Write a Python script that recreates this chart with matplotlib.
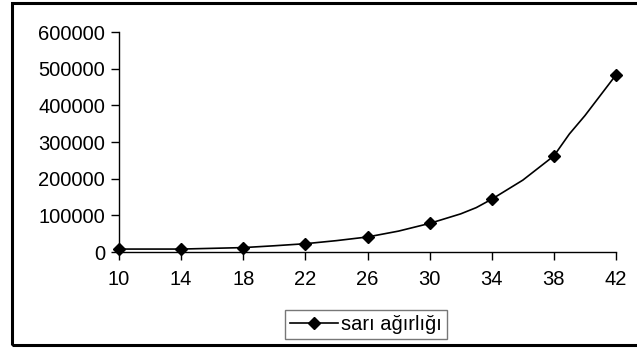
import matplotlib.pyplot as plt
from matplotlib.patches import Rectangle

# boy (cm) -> sarı ağırlığı
x_line = [10, 12, 14, 16, 18, 20, 22, 24, 26, 28, 30, 32, 33, 34, 36, 38, 39, 40, 42]
y_line = [8000, 8000, 8000, 10000, 12000, 17000, 22600, 31000, 41000, 57000, 78000,
          104000, 121000, 144000, 196000, 262000, 322000, 372000, 483000]
x_marks = [10, 14, 18, 22, 26, 30, 34, 38, 42]
y_ticks = [0, 100000, 200000, 300000, 400000, 500000, 600000]
series_name = 'sarı ağırlığı'

plt.rcParams['font.family'] = ['Liberation Sans', 'DejaVu Sans']

W, H = 637, 349
fig = plt.figure(figsize=(W / 100, H / 100), dpi=100)
ax = fig.add_axes([119 / W, 1 - 252 / H, (616 - 119) / W, (252 - 32) / H])

marker_idx = [x_line.index(v) for v in x_marks]
ax.plot(x_line, y_line, color='black', linewidth=1.2,
        marker='D', markersize=6, markevery=marker_idx, label=series_name)

ax.set_xlim(10, 42)
ax.set_ylim(0, 600000)
ax.set_xticks(x_marks)
ax.set_yticks(y_ticks)
ax.set_yticklabels([str(v) for v in y_ticks])
ax.tick_params(axis='both', direction='out', length=6, width=1, labelsize=14.5, colors='black')
ax.tick_params(axis='y', pad=4)
ax.tick_params(axis='x', pad=7)
for side in ('top', 'right'):
    ax.spines[side].set_visible(False)
for side in ('left', 'bottom'):
    ax.spines[side].set_linewidth(1)
for ln in ax.get_lines():
    ln.set_clip_on(False)

leg = fig.legend(loc='center', bbox_to_anchor=(366 / W, 1 - 324.5 / H),
                 fontsize=14.5, frameon=True, fancybox=False, handlelength=2.4,
                 borderpad=0.25, handletextpad=0.15, borderaxespad=0)
leg.get_frame().set_edgecolor('#555555')
leg.get_frame().set_linewidth(1)

# chart border, open on the right
fig.patches.append(Rectangle((12 / W, 1 - 345 / H), 1.0, (345 - 3) / H,
                             transform=fig.transFigure, fill=False,
                             edgecolor='black', linewidth=2.2, clip_on=False))

fig.savefig('out.png', dpi=100)
